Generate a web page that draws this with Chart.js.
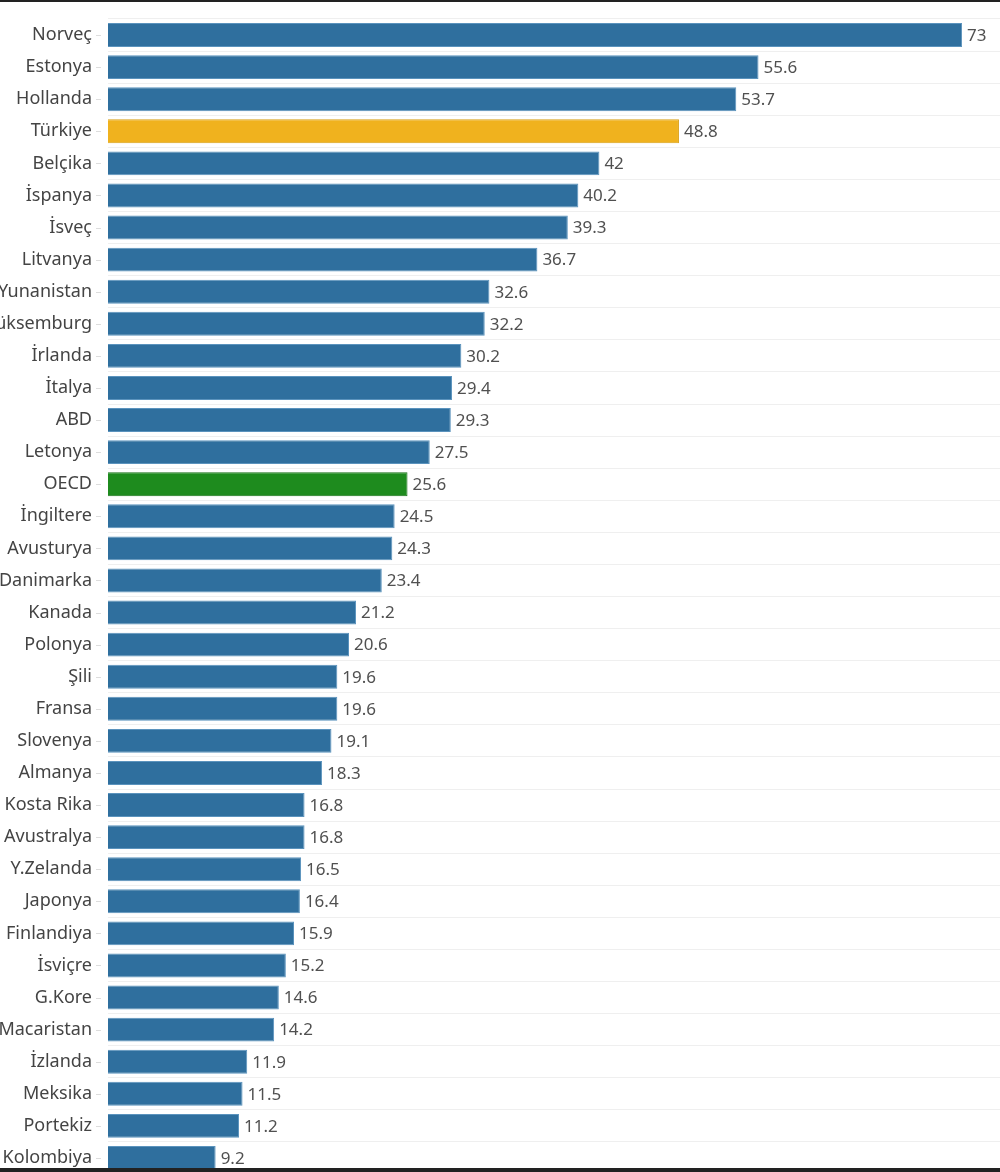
<!DOCTYPE html>
<html><head><meta charset="utf-8">
<script src="https://cdn.jsdelivr.net/npm/chart.js@4"></script>
<style>
html,body{margin:0;padding:0;background:#fff;overflow:hidden;width:1000px;height:1172px;}
#wrap{position:absolute;left:0;top:0;width:1000px;height:1174px;}
#topline{position:absolute;left:0;top:0;width:1000px;height:2px;background:#222;}
#botline{position:absolute;left:0;top:1168px;width:1000px;height:4px;background:#222;}
</style></head><body>
<div id="wrap"><canvas id="c"></canvas></div>
<div id="topline"></div><div id="botline"></div>
<script>
const categories = ["Norveç","Estonya","Hollanda","Türkiye","Belçika","İspanya","İsveç","Litvanya","Yunanistan","Lüksemburg","İrlanda","İtalya","ABD","Letonya","OECD","İngiltere","Avusturya","Danimarka","Kanada","Polonya","Şili","Fransa","Slovenya","Almanya","Kosta Rika","Avustralya","Y.Zelanda","Japonya","Finlandiya","İsviçre","G.Kore","Macaristan","İzlanda","Meksika","Portekiz","Kolombiya"];
const values = [73,55.6,53.7,48.8,42,40.2,39.3,36.7,32.6,32.2,30.2,29.4,29.3,27.5,25.6,24.5,24.3,23.4,21.2,20.6,19.6,19.6,19.1,18.3,16.8,16.8,16.5,16.4,15.9,15.2,14.6,14.2,11.9,11.5,11.2,9.2];
const highlightTurkey = "Türkiye";
const highlightOECD = "OECD";

const baseColor = "#2f6f9e", baseBorder = "#5b93bd";
const trColor = "#f0b21e", trBorder = "#d9a016";
const oecdColor = "#1e8b1e", oecdBorder = "#167016";
const bg = categories.map(c => c===highlightTurkey?trColor:(c===highlightOECD?oecdColor:baseColor));
const bd = categories.map(c => c===highlightTurkey?trBorder:(c===highlightOECD?oecdBorder:baseBorder));

const valueLabels = {
  id:'valueLabels',
  afterDatasetsDraw(chart){
    const ctx = chart.ctx; const meta = chart.getDatasetMeta(0);
    ctx.save();
    ctx.font = '17px "Noto Sans", "Open Sans", sans-serif';
    ctx.fillStyle = '#505050'; ctx.textAlign='left'; ctx.textBaseline='middle';
    meta.data.forEach((el,i)=>{ ctx.fillText(String(values[i]), el.x+5, el.y+1); });
    ctx.restore();
  }
};
const tickDashes = {
  id:'tickDashes',
  afterDraw(chart){
    const ctx = chart.ctx; const ys = chart.scales.y;
    ctx.save(); ctx.strokeStyle='#ddd'; ctx.lineWidth=1;
    categories.forEach((c,i)=>{ const y = Math.round(ys.getPixelForValue(i))+0.5; ctx.beginPath(); ctx.moveTo(96,y); ctx.lineTo(101,y); ctx.stroke(); });
    ctx.restore();
  }
};

new Chart(document.getElementById('c'), {
  type:'bar',
  data:{labels:categories, datasets:[{data:values, backgroundColor:bg, borderColor:bd, borderWidth:1, barPercentage:0.88, categoryPercentage:0.85}]},
  options:{
    indexAxis:'y', responsive:true, maintainAspectRatio:false, animation:false,
    layout:{padding:{top:19,right:0,bottom:0,left:0}},
    plugins:{legend:{display:false}, tooltip:{enabled:false}},
    scales:{
      x:{display:false, min:0, max:76.24},
      y:{
        offset:true,
        grid:{offset:true, color:'#efefef', drawTicks:false},
        border:{display:false},
        ticks:{color:'#444', font:{family:'"Noto Sans", "Open Sans", sans-serif', size:18}, padding:16, autoSkip:false},
        afterFit(scale){ scale.width = 108; scale.paddingTop = 0; scale.paddingBottom = 0; }
      }
    }
  },
  plugins:[valueLabels, tickDashes]
});
</script>
</body></html>
